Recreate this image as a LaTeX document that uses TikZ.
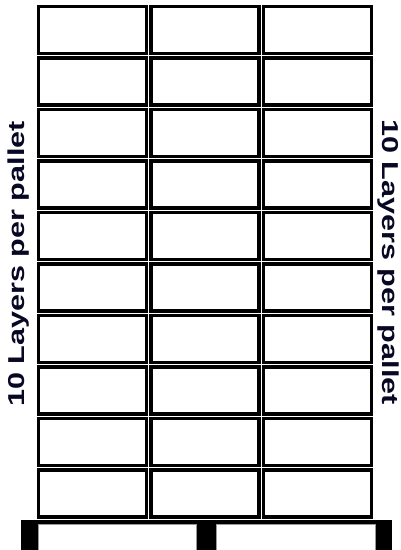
\documentclass[tikz,border=0pt]{standalone}
\usepackage{graphicx}
\usepackage{fontspec}
\setmainfont{Liberation Sans}
\usetikzlibrary{positioning}
\definecolor{labelnavy}{RGB}{8,8,36}

\begin{document}
\begin{tikzpicture}[x=1pt,y=-1pt,
  carton/.style={draw,line width=3.2pt,minimum width=108pt,minimum height=47pt,inner sep=0pt,outer sep=0pt},
  board/.style={fill=white,draw=black!40,line width=0.5pt},
  layerlabel/.style={text=labelnavy,inner sep=0pt,font=\bfseries\fontsize{23}{27}\selectfont}]
  \useasboundingbox (0,0) rectangle (401,550);

  % Cartons, 10 layers of 3
  \foreach \r in {0,...,9}
    \foreach \c in {0,1,2}
      \node[carton] (box-\r-\c) at (92.5+112.5*\c,30+51.5*\r) {};

  % Pallet
  \fill (21,520) rectangle (392,550);
  \fill[board] (38,524.5) rectangle (196.5,551);
  \fill[board] (216.5,524.5) rectangle (375,551);

  % Labels
  \node[layerlabel,rotate=90] (labelL) at (19,264) {\scalebox{1.33}[1]{10 Layers per pallet}};
  \node[layerlabel,rotate=-90] (labelR) at (388,262) {\scalebox{1.33}[1]{10 Layers per pallet}};
\end{tikzpicture}
\end{document}
